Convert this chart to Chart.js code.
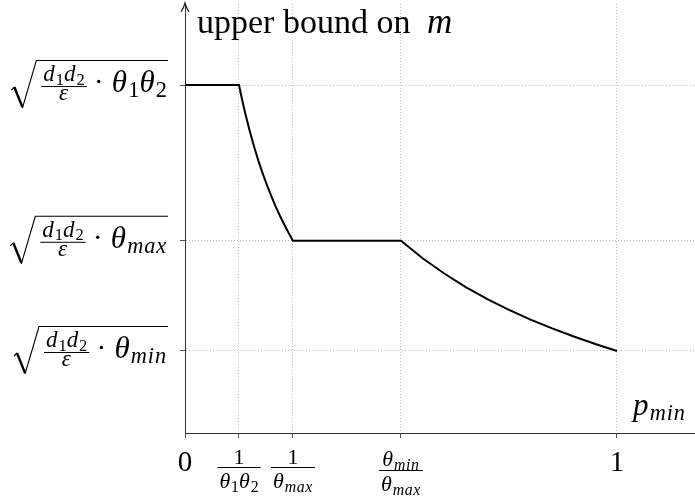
<!DOCTYPE html>
<html>
<head>
<meta charset="utf-8">
<script src="https://cdn.jsdelivr.net/npm/chart.js@4.4.0/dist/chart.umd.min.js"></script>
<style>
    html, body { margin: 0; padding: 0; background: #fff; }
</style>
</head>
<body>
<canvas id="boundChart" width="695" height="500"></canvas>
<script>
// Curve: x = p_min, y = bound (in units of sqrt(d1 d2 / eps))
var pMin = [0, 0.125, 0.13, 0.135, 0.14, 0.15, 0.16, 0.17, 0.18, 0.19, 0.20, 0.21, 0.22, 0.23, 0.24, 0.25,
            0.5, 0.55, 0.6, 0.65, 0.7, 0.75, 0.8, 0.85, 0.9, 0.95, 1.0];
var bound = [2.828, 2.828, 2.774, 2.722, 2.673, 2.582, 2.5, 2.425, 2.357, 2.294, 2.236, 2.182, 2.132, 2.085, 2.041, 2.0,
             2.0, 1.907, 1.826, 1.754, 1.690, 1.633, 1.581, 1.534, 1.491, 1.451, 1.414];

// Tick positions
var xTicks = [0, 0.125, 0.25, 0.5, 1];
var yTicks = [1.414, 2, 2.828];

// Label pieces: t = text, it = italic, sub = subscript
function R(t) { return { t: t }; }
function I(t) { return { t: t, it: true }; }
function Sr(t) { return { t: t, sub: true }; }
function Si(t) { return { t: t, it: true, sub: true }; }

var xTickLabels = [
    { text: [R('0')] },
    { num: [R('1')], den: [I('θ'), Sr('1'), I('θ'), Sr('2')] },
    { num: [R('1')], den: [I('θ'), Si('max')] },
    { num: [I('θ'), Si('min')], den: [I('θ'), Si('max')] },
    { text: [R('1')] }
];
var yTickLabels = [
    [I('θ'), Si('min')],
    [I('θ'), Si('max')],
    [I('θ'), Sr('1'), I('θ'), Sr('2')]
];
var radicandNum = [I('d'), Sr('1'), I('d'), Sr('2')];
var radicandDen = [I('ε')];
var yTitle = 'upper bound on';
var yTitleVar = 'm';
var xTitle = [I('p'), Si('min')];

var SERIF = '"Liberation Serif", "DejaVu Serif", serif';
var SUB = 0.72;

function setFont(ctx, run, size) {
    ctx.font = (run.it ? 'italic ' : '') + size + 'px ' + SERIF;
    // italic math in the original is a bit wider than Times italic
    ctx.letterSpacing = run.it ? (size * 0.04).toFixed(2) + 'px' : '0px';
}

function runsWidth(ctx, runs, size) {
    var w = 0;
    runs.forEach(function (r) {
        setFont(ctx, r, r.sub ? size * SUB : size);
        w += ctx.measureText(r.t).width;
    });
    return w;
}

function hasSub(runs) {
    return runs.some(function (r) { return r.sub; });
}

function drawRuns(ctx, runs, x, y, size) {
    runs.forEach(function (r) {
        var s = r.sub ? size * SUB : size;
        setFont(ctx, r, s);
        ctx.fillText(r.t, x, r.sub ? y + size * 0.16 : y);
        x += ctx.measureText(r.t).width;
    });
    ctx.letterSpacing = '0px';
    return x;
}

function drawBar(ctx, x1, x2, y) {
    ctx.beginPath();
    ctx.moveTo(x1, y);
    ctx.lineTo(x2, y);
    ctx.lineWidth = 1;
    ctx.stroke();
}

var labelPlugin = {
    id: 'mathLabels',
    afterDraw: function (chart) {
        var ctx = chart.ctx;
        var xs = chart.scales.x;
        var ys = chart.scales.y;
        var axisX = chart.chartArea.left;
        var top = chart.chartArea.top;

        ctx.save();
        ctx.fillStyle = '#000';
        ctx.strokeStyle = '#000';
        ctx.textBaseline = 'alphabetic';
        ctx.textAlign = 'left';

        // arrow head on the y axis
        ctx.strokeStyle = '#222';
        ctx.lineWidth = 1.2;
        ctx.beginPath();
        ctx.moveTo(axisX - 4, top + 8);
        ctx.quadraticCurveTo(axisX - 1, top + 3, axisX, top - 1);
        ctx.quadraticCurveTo(axisX + 1, top + 3, axisX + 4, top + 8);
        ctx.stroke();
        ctx.strokeStyle = '#000';

        // y axis title
        ctx.font = '34px ' + SERIF;
        ctx.fillText(yTitle, 197, 33);
        ctx.font = 'italic 35px ' + SERIF;
        ctx.fillText(yTitleVar, 427, 33);

        // x axis title
        drawRuns(ctx, xTitle, 633, 415, 31);

        // x tick labels
        xTickLabels.forEach(function (lab, i) {
            var cx = xs.getPixelForValue(xTicks[i]);
            if (lab.text) {
                var w = runsWidth(ctx, lab.text, 29);
                drawRuns(ctx, lab.text, cx - w / 2, 471, 29);
                return;
            }
            var fs = 22;
            var nw = runsWidth(ctx, lab.num, fs);
            var dw = runsWidth(ctx, lab.den, fs);
            var bw = Math.max(nw, dw) + 4;
            var numBase = hasSub(lab.num) ? 466 : 464;
            var bar = numBase + (hasSub(lab.num) ? 4 : 3);
            drawRuns(ctx, lab.num, cx - nw / 2, numBase, fs);
            drawBar(ctx, cx - bw / 2, cx + bw / 2, bar + 0.5);
            drawRuns(ctx, lab.den, cx - dw / 2, bar + 21, fs);
        });

        // y tick labels: sqrt( d1 d2 / eps * main )
        var rx = axisX - 18;
        yTickLabels.forEach(function (main, i) {
            var ty = ys.getPixelForValue(yTicks[i]);
            var ms = 31;
            var mw = runsWidth(ctx, main, ms);
            var mx = rx - mw;
            drawRuns(ctx, main, mx, ty + 7, ms);

            // cdot
            ctx.beginPath();
            ctx.arc(mx - 13, ty - 3.5, 1.7, 0, Math.PI * 2);
            ctx.fill();

            // fraction
            var fs = 23;
            var nw = runsWidth(ctx, radicandNum, fs);
            var dw = runsWidth(ctx, radicandDen, fs);
            var bw = Math.max(nw, dw) + 4;
            var fr = mx - 25;
            var fl = fr - bw;
            var fc = (fl + fr) / 2;
            drawRuns(ctx, radicandNum, fc - nw / 2, ty - 4, fs);
            drawBar(ctx, fl, fr, ty + 1.5);
            drawRuns(ctx, radicandDen, fc - dw / 2, ty + 15, fs);

            // radical sign
            ctx.lineJoin = 'miter';
            ctx.lineWidth = 1.1;
            ctx.beginPath();
            ctx.moveTo(fl - 30, ty + 5);
            ctx.lineTo(fl - 27, ty + 2);
            ctx.stroke();
            ctx.lineWidth = 2.4;
            ctx.beginPath();
            ctx.moveTo(fl - 27, ty + 2);
            ctx.lineTo(fl - 19, ty + 22);
            ctx.stroke();
            ctx.lineWidth = 1.1;
            ctx.beginPath();
            ctx.moveTo(fl - 19, ty + 23);
            ctx.lineTo(fl - 5, ty - 24.5);
            ctx.lineTo(rx + 1, ty - 24.5);
            ctx.stroke();
        });

        ctx.restore();
    }
};

var chartCtx = document.getElementById('boundChart');
new Chart(chartCtx, {
    type: 'line',
    data: {
        datasets: [{
            data: pMin.map(function (p, i) { return { x: p, y: bound[i] }; }),
            borderColor: '#000',
            borderWidth: 2,
            pointRadius: 0,
            tension: 0,
            fill: false
        }]
    },
    options: {
        responsive: false,
        animation: false,
        layout: {
            padding: { left: 180, top: 4, right: 0, bottom: 62 }
        },
        plugins: {
            legend: { display: false },
            tooltip: { enabled: false }
        },
        scales: {
            x: {
                type: 'linear',
                min: 0,
                max: 1.1806,
                afterBuildTicks: function (scale) {
                    scale.ticks = xTicks.map(function (v) { return { value: v }; });
                },
                ticks: { display: false },
                grid: {
                    color: '#bdbdbd',
                    lineWidth: 1,
                    tickLength: 5,
                    tickColor: '#555',
                    tickWidth: 1,
                    tickBorderDash: []
                },
                border: { display: true, color: '#333', width: 1, dash: [1, 2] }
            },
            y: {
                type: 'linear',
                min: 0.978,
                max: 3.259,
                afterBuildTicks: function (scale) {
                    scale.ticks = yTicks.map(function (v) { return { value: v }; });
                },
                ticks: { display: false },
                grid: {
                    color: '#bdbdbd',
                    lineWidth: 1,
                    tickLength: 5,
                    tickColor: '#555',
                    tickWidth: 1,
                    tickBorderDash: []
                },
                border: { display: true, color: '#333', width: 1, dash: [1, 2] }
            }
        }
    },
    plugins: [labelPlugin]
});
</script>
</body>
</html>
